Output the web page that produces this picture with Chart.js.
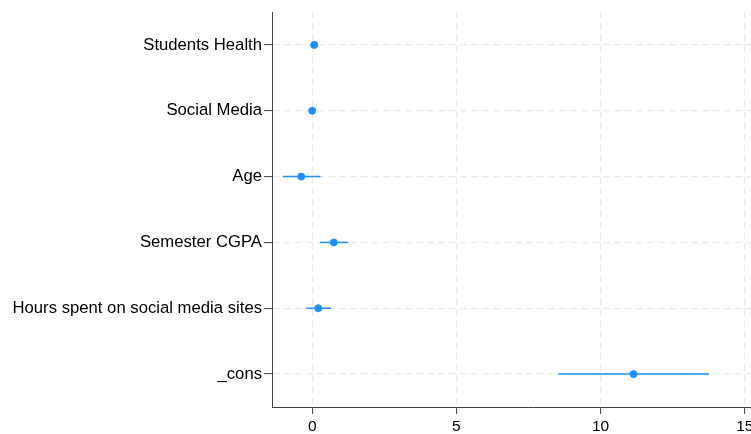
<!DOCTYPE html>
<html lang="en">
<head>
    <meta charset="UTF-8">
    <title>Coefficient plot</title>
    <style>
        html, body { margin: 0; padding: 0; background: #fff; overflow: hidden; }
        #wrap { width: 800px; height: 434px; }
    </style>
</head>
<body>
    <div id="wrap">
        <canvas id="coefChart" width="800" height="434"></canvas>
    </div>

    <script src="https://cdn.jsdelivr.net/npm/chart.js"></script>
    <script>
        // row labels, top to bottom
        const labels = ['Students Health', 'Social Media', 'Age', 'Semester CGPA',
                        'Hours spent on social media sites', '_cons'];
        // point estimates and 95% CI
        const coef   = [0.07, 0.00, -0.38, 0.75, 0.21, 11.14];
        const ciLow  = [0.03, -0.03, -1.02, 0.27, -0.22, 8.53];
        const ciHigh = [0.11, 0.03, 0.29, 1.25, 0.65, 13.76];
        const xTicks = [0, 5, 10, 15];

        const blue = '#1e8fff';
        const font = { family: "'Liberation Sans', Arial, sans-serif" };

        const ciSets = labels.map((lab, i) => ({
            label: lab + ' CI',
            data: [{ x: ciLow[i], y: i + 1 }, { x: ciHigh[i], y: i + 1 }],
            showLine: true,
            borderColor: blue,
            borderWidth: 1.5,
            pointRadius: 0
        }));

        const pointSet = {
            label: 'coef',
            data: coef.map((c, i) => ({ x: c, y: i + 1 })),
            backgroundColor: blue,
            borderColor: blue,
            pointRadius: 3.5,
            showLine: false
        };

        new Chart(document.getElementById('coefChart'), {
            type: 'scatter',
            data: { datasets: [...ciSets, pointSet] },
            options: {
                responsive: false,
                animation: false,
                devicePixelRatio: 1,
                layout: { padding: { top: 11, right: 0, left: 0, bottom: 0 } },
                plugins: { legend: { display: false }, tooltip: { enabled: false } },
                scales: {
                    x: {
                        type: 'linear',
                        min: -1.394,
                        max: 16.74,
                        afterBuildTicks: s => { s.ticks = xTicks.map(v => ({ value: v })); },
                        afterFit: s => { s.height = 27; },
                        grid: { color: '#eaeaea', lineWidth: 1.2, tickLength: 7, tickColor: '#444', tickWidth: 1, drawTicks: true },
                        border: { color: '#444', width: 1, dash: [7, 4] },
                        ticks: { color: '#000', padding: 3, font: { ...font, size: 15.5 }, maxRotation: 0 }
                    },
                    y: {
                        type: 'linear',
                        reverse: true,
                        min: 0.5,
                        max: 6.5,
                        afterBuildTicks: s => { s.ticks = labels.map((l, i) => ({ value: i + 1 })); },
                        afterFit: s => { s.width = 272; },
                        grid: { color: '#eaeaea', lineWidth: 1.2, tickLength: 8, tickColor: '#444', tickWidth: 1, drawTicks: true },
                        border: { color: '#444', width: 1, dash: [7, 4] },
                        ticks: {
                            color: '#000',
                            padding: 2,
                            font: { ...font, size: 16.7 },
                            callback: v => labels[Math.round(v) - 1] || ''
                        }
                    }
                }
            }
        });
    </script>
</body>
</html>
